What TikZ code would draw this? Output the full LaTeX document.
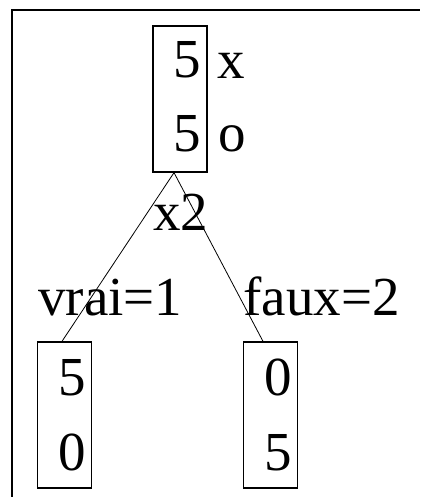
\documentclass[tikz,border=0pt]{standalone}
\usepackage{fontspec}
\setmainfont{Liberation Serif}
\usepackage{tikz}
\usetikzlibrary{positioning}

\begin{document}
\begin{tikzpicture}[x=1pt, y=-1pt, thick,
    every node/.style={font=\fontsize{55}{60}\selectfont, inner sep=0pt},
    stackbox/.style={draw, line width=1.3pt, minimum width=54pt, minimum height=146pt},
    branch/.style={line width=0.8pt}]
    \useasboundingbox (0,0) rectangle (420,497);

    % Frame (only left and top edges fall inside the picture)
    \draw[line width=2pt] (12,497) -- (12,10) -- (420,10);

    % 1. Root state
    \node[stackbox] (topbox) at (180,99) {};
    \node[anchor=base] (topA) at (187.5,78) {5};
    \node[anchor=base] (topB) at (187.5,152) {5};
    \node[anchor=base west] (labX) at (217,79) {x};
    \node[anchor=base west] (labO) at (218,152) {o};

    % 2. Children
    \node[stackbox] (leftbox) at (64.5,415) {};
    \node[anchor=base] (leftA) at (72.5,395) {5};
    \node[anchor=base] (leftB) at (72.5,470) {0};

    \node[stackbox] (rightbox) at (270.5,415) {};
    \node[anchor=base] (rightA) at (278.5,395) {0};
    \node[anchor=base] (rightB) at (278.5,470) {5};

    % 3. Branches and their labels
    \draw[branch] ([xshift=-6pt]topbox.south) -- ([xshift=-2.5pt]leftbox.north);
    \draw[branch] ([xshift=-6pt]topbox.south) -- ([xshift=-7.5pt]rightbox.north);
    \node[anchor=base west] (test) at (153,230) {x2};
    \node[anchor=base west] (yes) at (38,315) {vrai=1};
    \node[anchor=base west] (no) at (243,315) {faux=2};

\end{tikzpicture}
\end{document}
